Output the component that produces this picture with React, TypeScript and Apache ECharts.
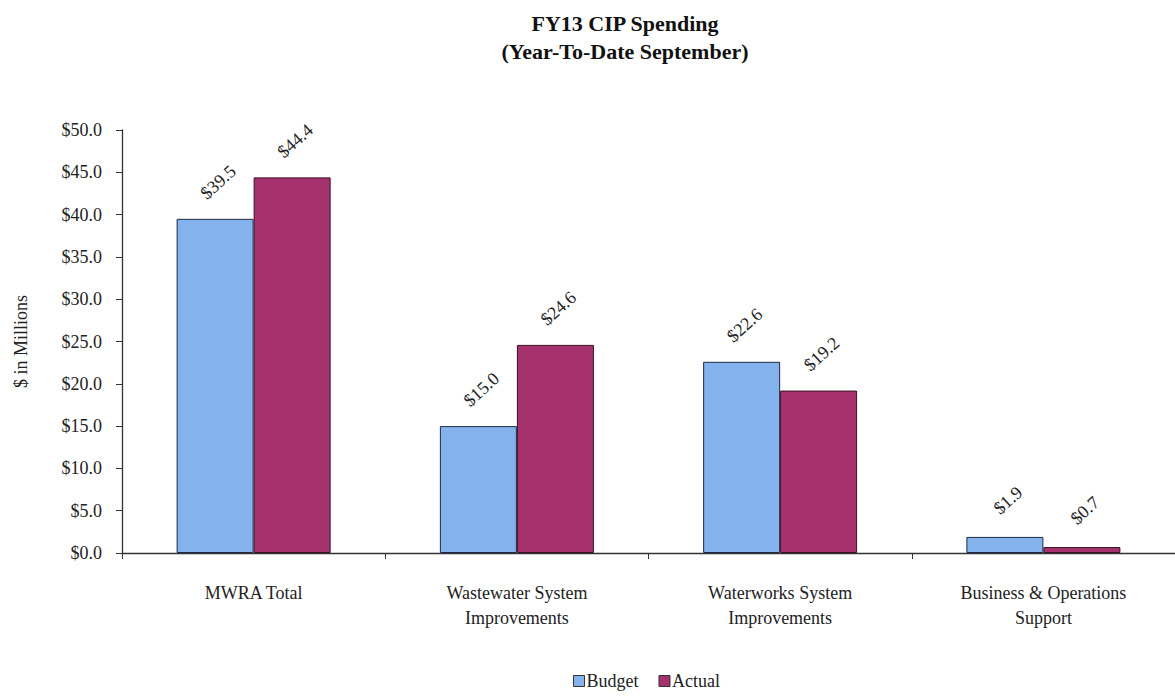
import React, { useEffect, useRef } from "react";
import * as echarts from "echarts";

const categories = [
  "MWRA Total",
  "Wastewater System\nImprovements",
  "Waterworks System\nImprovements",
  "Business & Operations\nSupport",
];
const budget = [39.5, 15.0, 22.6, 1.9];
const actual = [44.4, 24.6, 19.2, 0.7];

const FONT = "'Liberation Serif', 'Times New Roman', serif";

export default function App() {
  const ref = useRef<HTMLDivElement>(null);
  useEffect(() => {
    if (!ref.current) return;
    const chart = echarts.init(ref.current, undefined, { renderer: "svg" });
    const label = {
      show: true,
      position: "top",
      distance: 34,
      rotate: 42,
      align: "center",
      verticalAlign: "middle",
      fontFamily: FONT,
      fontSize: 18,
      color: "#222",
      offset: [4, 0],
      formatter: (p: any) => "$" + p.value.toFixed(1),
    };
    chart.setOption({
      animation: false,
      backgroundColor: "#ffffff",
      title: {
        text: "FY13 CIP Spending\n(Year-To-Date September)",
        left: 620,
        textAlign: "center",
        top: 4,
        textStyle: {
          fontFamily: FONT,
          fontSize: 22,
          fontWeight: "bold",
          color: "#111",
          lineHeight: 28,
        },
      },
      legend: {
        top: 672,
        left: 573,
        itemWidth: 11,
        itemHeight: 11,
        itemGap: 20,
        icon: "rect",
        padding: 0,
        itemStyle: { borderColor: "#333", borderWidth: 1 },
        textStyle: { fontFamily: FONT, fontSize: 18, color: "#222", padding: [0, 0, 0, -3] },
        data: ["Budget", "Actual"],
      },
      grid: { left: 122, right: 0, top: 130, bottom: 143 },
      xAxis: {
        type: "category",
        data: categories,
        axisLine: { lineStyle: { color: "#333", width: 1.3 } },
        axisTick: { show: true, length: 6, alignWithLabel: false, lineStyle: { color: "#333" } },
        axisLabel: {
          fontFamily: FONT,
          fontSize: 18,
          color: "#222",
          margin: 27,
          lineHeight: 25,
          interval: 0,
        },
      },
      yAxis: {
        type: "value",
        min: 0,
        max: 50,
        interval: 5,
        name: "$ in Millions",
        nameLocation: "middle",
        nameGap: 92,
        nameRotate: 90,
        nameTextStyle: { fontFamily: FONT, fontSize: 18, color: "#222" },
        axisLine: { show: true, lineStyle: { color: "#333", width: 1.3 } },
        axisTick: { show: true, inside: false, length: 6, lineStyle: { color: "#333" } },
        splitLine: { show: false },
        axisLabel: {
          fontFamily: FONT,
          fontSize: 18,
          color: "#222",
          margin: 20,
          formatter: (v: number) => "$" + v.toFixed(1),
        },
      },
      series: [
        {
          name: "Budget",
          type: "bar",
          data: budget,
          barWidth: 77,
          barGap: "0%",
          itemStyle: { color: "#84b2ec", borderColor: "#1f2a44", borderWidth: 1 },
          label,
        },
        {
          name: "Actual",
          type: "bar",
          data: actual,
          barWidth: 77,
          barGap: "0%",
          itemStyle: { color: "#a6326d", borderColor: "#3a1025", borderWidth: 1 },
          label,
        },
      ],
    });
    return () => chart.dispose();
  }, []);
  return (
    <div
      ref={ref}
      style={{ position: "absolute", left: 0, top: 0, width: 1175, height: 696 }}
    />
  );
}
